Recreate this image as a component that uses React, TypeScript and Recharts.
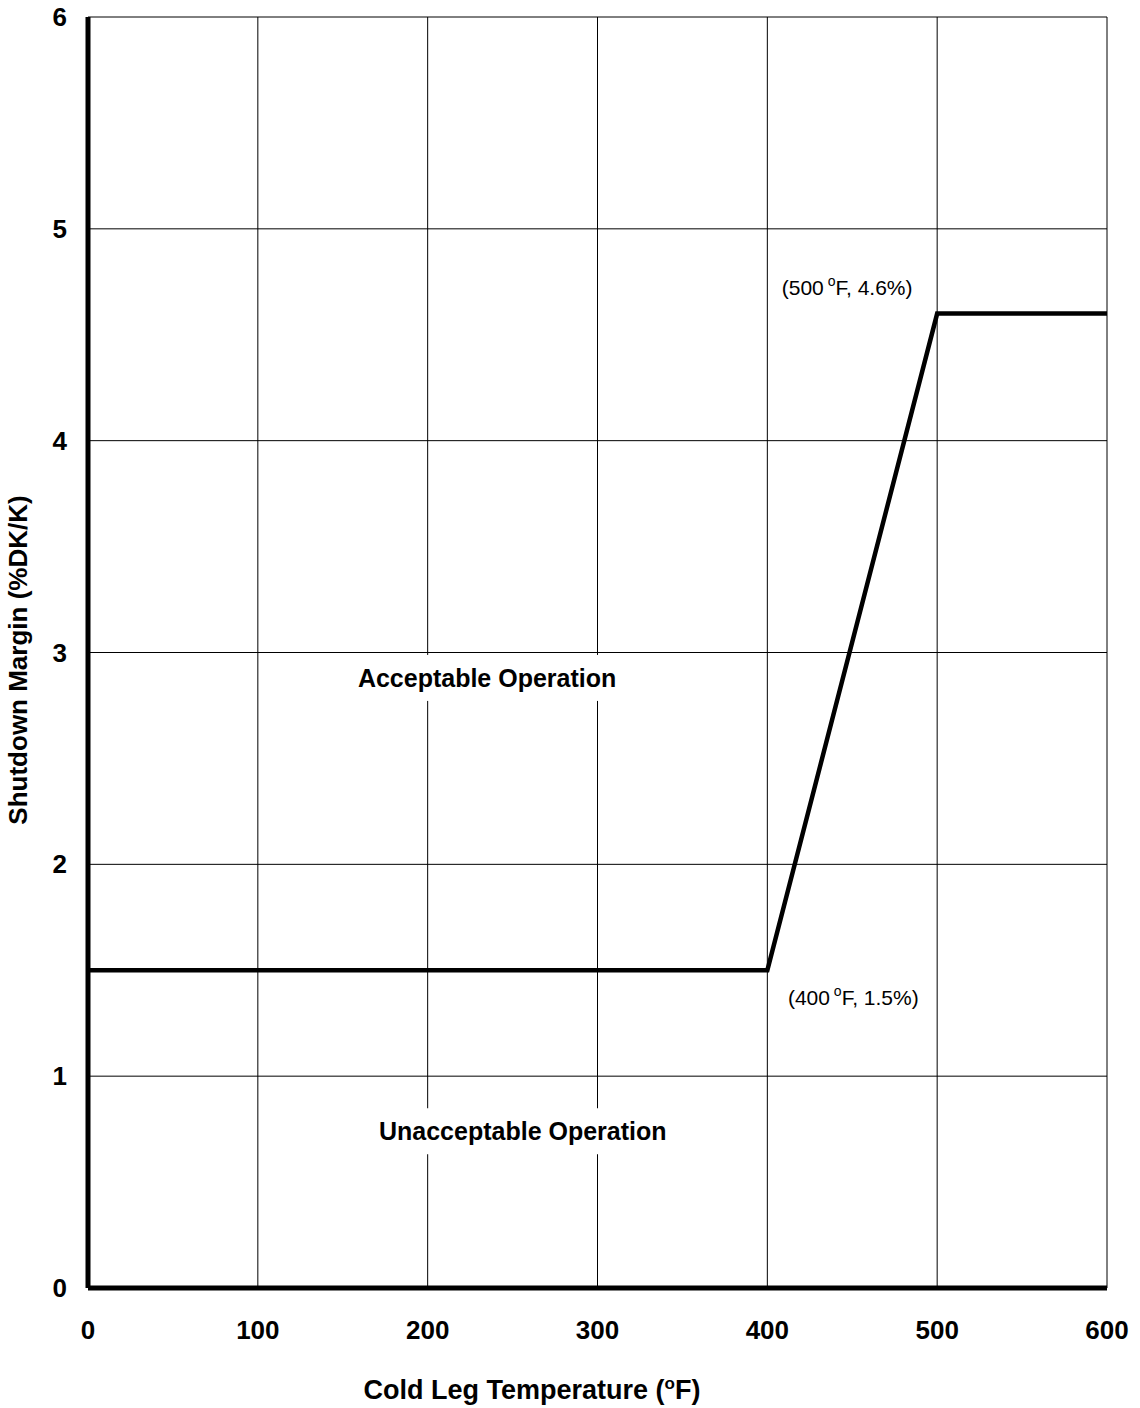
import React from 'react';
import {
    CartesianGrid,
    Line,
    LineChart,
    ReferenceDot,
    XAxis,
    YAxis,
} from 'recharts';

// limit curve: shutdown margin vs cold leg temperature
const temps = [0, 400, 500, 600];
const margins = [1.5, 1.5, 4.6, 4.6];

const xTicks = [0, 100, 200, 300, 400, 500, 600];
const yTicks = [0, 1, 2, 3, 4, 5, 6];

const data = temps.map((t, i) => ({ temp: t, margin: margins[i] }));

const FONT = '"Liberation Sans", Arial, sans-serif';

const XTick = (props: any) => {
    const { x, y, payload } = props;
    return (
        <text
            x={x}
            y={y + 51}
            textAnchor="middle"
            fontFamily={FONT}
            fontWeight="bold"
            fontSize={26}
            fill="#000"
        >
            {payload.value}
        </text>
    );
};

const YTick = (props: any) => {
    const { x, y, payload } = props;
    return (
        <text
            x={x - 21}
            y={y + 9}
            textAnchor="end"
            fontFamily={FONT}
            fontWeight="bold"
            fontSize={26}
            fill="#000"
        >
            {payload.value}
        </text>
    );
};

// boxed region label (white box breaks the grid behind it)
const regionLabel = (text: string, w: number) => (props: any) => {
    const { cx, cy } = props;
    return (
        <g>
            <rect x={cx - w / 2} y={cy - 23} width={w} height={46} fill="#fff" />
            <text
                x={cx}
                y={cy + 9}
                textAnchor="middle"
                fontFamily={FONT}
                fontWeight="bold"
                fontSize={25}
                fill="#000"
            >
                {text}
            </text>
        </g>
    );
};

const pointLabel = (t: string, v: string, dx: number, dy: number) => (props: any) => {
    const { cx, cy } = props;
    return (
        <text
            x={cx + dx}
            y={cy + dy}
            textAnchor="middle"
            fontFamily={FONT}
            fontSize={21}
            fill="#000"
        >
            ({t}
            <tspan dy={-9} fontSize={14}>
                {' o'}
            </tspan>
            <tspan dy={9}>F, {v})</tspan>
        </text>
    );
};

export default function App() {
    return (
        <div style={{ position: 'absolute', left: 0, top: 0, width: 1140, height: 1408, background: '#fff' }}>
            <LineChart
                width={1140}
                height={1408}
                data={data}
                margin={{ top: 17, right: 33, bottom: 0, left: 0 }}
            >
                <CartesianGrid stroke="#000" strokeWidth={1} />
                <XAxis
                    dataKey="temp"
                    type="number"
                    domain={[0, 600]}
                    ticks={xTicks}
                    height={120}
                    tickSize={0}
                    tickMargin={0}
                    tickLine={false}
                    axisLine={{ stroke: '#000', strokeWidth: 5 }}
                    tick={<XTick />}
                />
                <YAxis
                    type="number"
                    domain={[0, 6]}
                    ticks={yTicks}
                    width={88}
                    tickSize={0}
                    tickMargin={0}
                    tickLine={false}
                    axisLine={{ stroke: '#000', strokeWidth: 5 }}
                    tick={<YTick />}
                />
                <ReferenceDot x={235} y={2.88} r={0} shape={regionLabel('Acceptable Operation', 270)} />
                <ReferenceDot x={256} y={0.74} r={0} shape={regionLabel('Unacceptable Operation', 300)} />
                <Line
                    type="linear"
                    dataKey="margin"
                    stroke="#000"
                    strokeWidth={4.5}
                    dot={false}
                    activeDot={false}
                    isAnimationActive={false}
                />
                <ReferenceDot x={500} y={4.6} r={0} shape={pointLabel('500', '4.6%', -90, -19)} />
                <ReferenceDot x={400} y={1.5} r={0} shape={pointLabel('400', '1.5%', 86, 35)} />
                <text
                    x={532}
                    y={1399}
                    textAnchor="middle"
                    fontFamily={FONT}
                    fontWeight="bold"
                    fontSize={27}
                    fill="#000"
                >
                    Cold Leg Temperature (
                    <tspan dy={-10} fontSize={17}>
                        o
                    </tspan>
                    <tspan dy={10}>F)</tspan>
                </text>
                <text
                    transform="translate(27, 660) rotate(-90)"
                    textAnchor="middle"
                    fontFamily={FONT}
                    fontWeight="bold"
                    fontSize={26}
                    fill="#000"
                >
                    Shutdown Margin (%DK/K)
                </text>
            </LineChart>
        </div>
    );
}
